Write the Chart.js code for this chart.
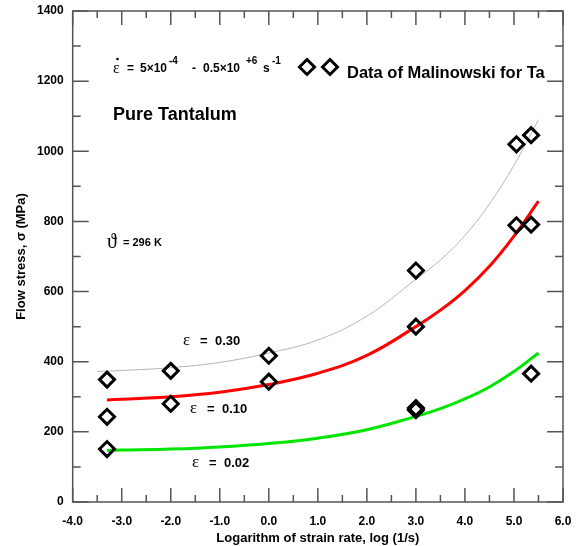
<!DOCTYPE html>
<html>
<head>
<meta charset="utf-8">
<script src="https://cdn.jsdelivr.net/npm/chart.js@4"></script>
<style>
  html, body { margin: 0; padding: 0; background: #fff; }
  #wrap { width: 577px; height: 546px; }
</style>
</head>
<body>
<div id="wrap"><canvas id="chart1"></canvas></div>
<script>
// Measured data (Malinowski, Ta)
const rateLog = [-3.3, -3.3, -3.3, -2, -2, 0, 0, 3, 3, 3, 3, 5.05, 5.05, 5.35, 5.35, 5.35];
const stress = [349, 243, 151, 374, 280, 417, 343, 660, 500, 268, 262, 1020, 789, 1046, 791, 366];

// Model curves
const curveX30 = [-3.5, -3, -2, -1, 0, 1, 2, 3, 3.5, 4, 4.5, 5, 5.5];
const curve30 = [372, 375, 383, 398, 425, 462, 530, 635, 690, 760, 850, 960, 1090];
const curveX = [-3.3, -3, -2, -1, 0, 1, 2, 3, 3.5, 4, 4.5, 5, 5.5];
const curve10 = [291, 293, 300, 313, 335, 367, 418, 500, 547, 603, 672, 758, 858];
const curve02 = [147, 148, 151, 157, 167, 182, 206, 244, 266, 294, 328, 372, 425];

const FONT = 'Arial, "Liberation Sans", sans-serif';
const SERIF = '"Times New Roman", "Liberation Serif", serif';

function toPts(xs, ys) {
  return xs.map((x, i) => ({ x: x, y: ys[i] }));
}

function diamond(ctx, x, y, r) {
  ctx.beginPath();
  ctx.moveTo(x, y - r);
  ctx.lineTo(x + r, y);
  ctx.lineTo(x, y + r);
  ctx.lineTo(x - r, y);
  ctx.closePath();
  ctx.stroke();
}

// frame, inward ticks and text annotations
const framePlugin = {
  id: 'frame',
  afterDraw(chart) {
    const ctx = chart.ctx;
    const a = chart.chartArea;
    const xs = chart.scales.x, ys = chart.scales.y;
    ctx.save();
    ctx.strokeStyle = '#555';
    ctx.lineWidth = 1.5;
    ctx.strokeRect(a.left, a.top, a.right - a.left, a.bottom - a.top);
    ctx.beginPath();
    for (let v = -4; v <= 6.001; v += 0.5) {
      const px = xs.getPixelForValue(v);
      const len = Math.abs(v - Math.round(v)) < 0.01 ? 14 : 7;
      ctx.moveTo(px, a.bottom); ctx.lineTo(px, a.bottom - len);
      ctx.moveTo(px, a.top); ctx.lineTo(px, a.top + len);
    }
    for (let v = 0; v <= 1400; v += 100) {
      const py = ys.getPixelForValue(v);
      const len = v % 200 === 0 ? 16 : 8;
      ctx.moveTo(a.left, py); ctx.lineTo(a.left + len, py);
      ctx.moveTo(a.right, py); ctx.lineTo(a.right - len, py);
    }
    ctx.stroke();

    ctx.fillStyle = '#000';
    ctx.textBaseline = 'alphabetic';
    ctx.textAlign = 'left';

    // strain rate range
    ctx.font = '16px ' + SERIF;
    ctx.fillText('\u03b5', 113, 73);
    ctx.beginPath();
    ctx.arc(117.5, 59, 1.3, 0, Math.PI * 2);
    ctx.fill();
    ctx.font = 'bold 12px ' + FONT;
    ctx.fillText('=', 127, 72);
    ctx.fillText('5\u00d710', 140, 72);
    ctx.fillText('-', 192, 72);
    ctx.fillText('0.5\u00d710', 203, 72);
    ctx.fillText('s', 263, 72);
    ctx.font = 'bold 10px ' + FONT;
    ctx.fillText('-4', 169, 64);
    ctx.fillText('+6', 246, 64);
    ctx.fillText('-1', 272, 64);

    // legend markers
    ctx.strokeStyle = '#000';
    ctx.lineWidth = 3;
    diamond(ctx, 307, 67, 7.5);
    diamond(ctx, 330, 67, 7.5);
    ctx.font = 'bold 16.5px ' + FONT;
    ctx.fillText('Data of Malinowski for Ta', 347, 78);

    ctx.font = 'bold 18px ' + FONT;
    ctx.fillText('Pure Tantalum', 113, 120);

    ctx.font = '20px ' + SERIF;
    ctx.fillText('\u03d1', 107, 248);
    ctx.font = 'bold 11px ' + FONT;
    ctx.fillText('= 296 K', 123, 246);

    const labels = [['0.30', 183, 345], ['0.10', 190, 413], ['0.02', 192, 467]];
    labels.forEach(l => {
      ctx.font = '17px ' + SERIF;
      ctx.fillText('\u03b5', l[1], l[2]);
      ctx.font = 'bold 13px ' + FONT;
      ctx.fillText('=', l[1] + 17, l[2]);
      ctx.fillText(l[0], l[1] + 32, l[2]);
    });
    ctx.restore();
  }
};

const ctx = document.getElementById('chart1').getContext('2d');
new Chart(ctx, {
  type: 'scatter',
  data: {
    datasets: [
      {
        label: 'data',
        data: toPts(rateLog, stress),
        pointStyle: 'rectRot',
        pointRadius: 7.5,
        pointBorderWidth: 3,
        pointBorderColor: '#000',
        pointBackgroundColor: 'rgba(255,255,255,0)',
        showLine: false,
        order: 0
      },
      {
        label: 'eps 0.30',
        data: toPts(curveX30, curve30),
        showLine: true,
        borderColor: '#b5b5b5',
        borderWidth: 1,
        pointRadius: 0,
        tension: 0.4,
        order: 1
      },
      {
        label: 'eps 0.10',
        data: toPts(curveX, curve10),
        showLine: true,
        borderColor: '#ff0000',
        borderWidth: 3,
        pointRadius: 0,
        tension: 0.4,
        order: 1
      },
      {
        label: 'eps 0.02',
        data: toPts(curveX, curve02),
        showLine: true,
        borderColor: '#00e600',
        borderWidth: 3,
        pointRadius: 0,
        tension: 0.4,
        order: 1
      }
    ]
  },
  options: {
    responsive: true,
    maintainAspectRatio: false,
    animation: false,
    layout: { padding: { top: 11, right: 14, left: 0, bottom: 0 } },
    plugins: { legend: { display: false }, tooltip: { enabled: false } },
    scales: {
      x: {
        type: 'linear',
        min: -4, max: 6,
        grid: { display: false, drawTicks: false },
        border: { display: false },
        ticks: {
          stepSize: 1,
          padding: 12,
          color: '#000',
          font: { family: FONT, size: 12, weight: 'bold' },
          callback: v => v.toFixed(1),
          maxRotation: 0
        },
        title: {
          display: true,
          text: 'Logarithm of strain rate, log (1/s)',
          color: '#000',
          font: { family: FONT, size: 13, weight: 'bold' },
          padding: { top: 0, bottom: 0 }
        },
        afterFit: s => {
          s.height = 44;
          s.paddingLeft = 0;
          s.paddingRight = 0;
        }
      },
      y: {
        min: 0, max: 1400,
        grid: { display: false, drawTicks: false },
        border: { display: false },
        ticks: {
          stepSize: 200,
          padding: 9,
          color: '#000',
          font: { family: FONT, size: 12, weight: 'bold' },
          callback: v => String(v)
        },
        title: {
          display: true,
          text: 'Flow stress, \u03c3 (MPa)',
          color: '#000',
          font: { family: FONT, size: 13, weight: 'bold' },
          padding: { top: 14, bottom: 0 }
        },
        afterFit: s => {
          s.width = 72.7;
          s.paddingTop = 0;
          s.paddingBottom = 0;
        }
      }
    }
  },
  plugins: [framePlugin]
});
</script>
</body>
</html>
